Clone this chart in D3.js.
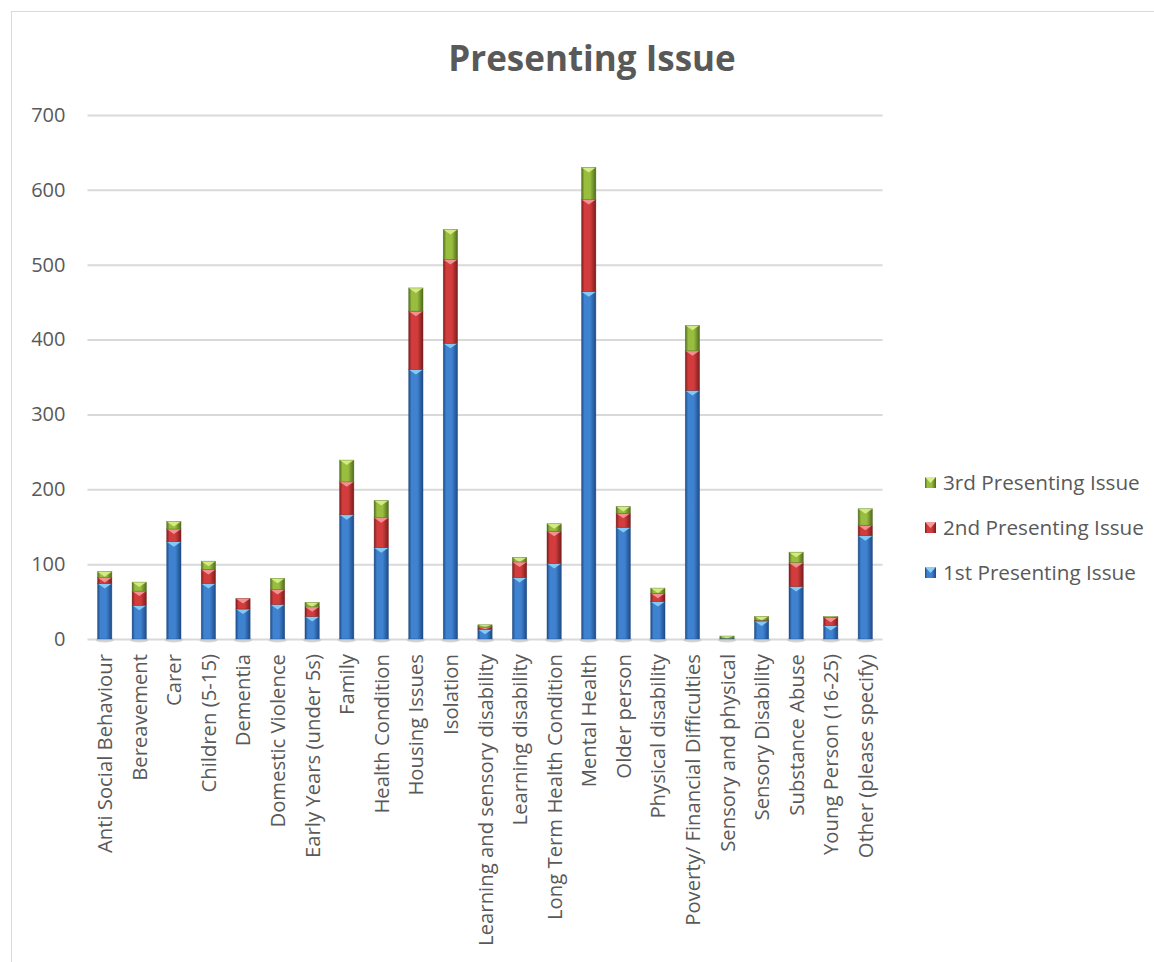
<!DOCTYPE html>
<html><head><meta charset="utf-8">
<script src="https://cdn.jsdelivr.net/npm/d3@7"></script>
<style>body{margin:0;background:#fff;} svg{display:block;} text{font-family:"Open Sans",sans-serif;}</style>
</head><body>
<script>
const categories = ["Anti Social Behaviour","Bereavement","Carer","Children (5-15)","Dementia","Domestic Violence","Early Years (under 5s)","Family","Health Condition","Housing Issues","Isolation","Learning and sensory disability","Learning disability","Long Term Health Condition","Mental Health","Older person","Physical disability","Poverty/ Financial Difficulties","Sensory and physical","Sensory Disability","Substance Abuse","Young Person (16-25)","Other (please specify)"];
const first  = [74,45,130,74,40,46,30,166,122,360,395,13,82,101,464,149,50,332,1,24,70,18,138];
const second = [8,19,17,19,14,20,13,44,40,78,112,3,21,43,123,19,11,53,0,1,32,11,14];
const third  = [8,12,10,11,0,15,6,29,23,31,40,3,6,10,43,9,7,34,3,5,14,1,22];
const seriesNames = ["1st Presenting Issue","2nd Presenting Issue","3rd Presenting Issue"];
const yTicks = [0,100,200,300,400,500,600,700];

const W=1154,H=962;
const svg=d3.select("body").append("svg").attr("width",W).attr("height",H);
const defs=svg.append("defs");
const pal=[
  {edge:"#1d4a86",mid:"#3f82d0",light:"#8cd0f7"},
  {edge:"#7a1d1d",mid:"#d23c3c",light:"#f49a9a"},
  {edge:"#4f6a1c",mid:"#98bd3f",light:"#d8f08a"}
];
pal.forEach((p,i)=>{
  const g=defs.append("linearGradient").attr("id","g"+i).attr("x1","0").attr("x2","1").attr("y1","0").attr("y2","0");
  g.append("stop").attr("offset","0").attr("stop-color",p.edge);
  g.append("stop").attr("offset","0.2").attr("stop-color",p.mid);
  g.append("stop").attr("offset","0.6").attr("stop-color",p.mid);
  g.append("stop").attr("offset","1").attr("stop-color",p.edge);
});

svg.append("rect").attr("x",11.5).attr("y",11.5).attr("width",1160).attr("height",970).attr("fill","none").attr("stroke","#d9d9d9");

const x=d3.scaleBand().domain(categories).range([87.5,882.5]).paddingInner(0.585).paddingOuter(0.29);
const y=d3.scaleLinear().domain([0,700]).range([639,115]);

svg.append("text").attr("x",592).attr("y",71).attr("text-anchor","middle").attr("font-size",35).attr("font-weight","bold").attr("fill","#595959").text("Presenting Issue");

// grid
const yAxis=d3.axisLeft(y).tickValues(yTicks).tickSize(-(882.5-87.5)).tickPadding(22).tickFormat(d3.format("d"));
const ga=svg.append("g").attr("transform","translate(87.5,0)").call(yAxis);
ga.select(".domain").remove();
ga.selectAll(".tick line").attr("stroke","#d9d9d9").attr("stroke-width",2);
ga.selectAll(".tick text").attr("font-size",20).attr("fill","#595959").attr("font-family","'Open Sans',sans-serif");

// data stack
const rows=categories.map((c,i)=>({cat:c,s0:first[i],s1:second[i],s2:third[i]}));
const stack=d3.stack().keys(["s0","s1","s2"])(rows);
const bw=x.bandwidth();

// base shadows
svg.append("g").selectAll("ellipse").data(categories).join("ellipse")
  .attr("cx",d=>x(d)+bw/2).attr("cy",y(0)+1).attr("rx",bw/2+2).attr("ry",2.5).attr("fill","#bbb").attr("opacity",0.6);

stack.forEach((layer,si)=>{
  const g=svg.append("g");
  layer.forEach((d,i)=>{
    const h=y(d[0])-y(d[1]);
    if(h<=0.01) return;
    const cx=x(categories[i]);
    const top=y(d[1]);
    g.append("rect").attr("x",cx).attr("y",top).attr("width",bw).attr("height",h).attr("fill","url(#g"+si+")");
    const th=Math.min(5,h);
    g.append("path").attr("d",`M${cx},${top}L${cx+bw},${top}L${cx+bw/2},${top+th}Z`).attr("fill",pal[si].light).attr("opacity",0.9);
    g.append("rect").attr("x",cx).attr("y",top).attr("width",bw).attr("height",h).attr("fill","none").attr("stroke",pal[si].edge).attr("stroke-width",0.6).attr("opacity",0.6);
  });
});

// x labels
const xl=svg.append("g");
categories.forEach(c=>{
  xl.append("text").attr("transform",`translate(${x(c)+bw/2+7.5},654) rotate(-90)`).attr("text-anchor","end")
    .attr("font-size",20.3).attr("fill","#595959").text(c);
});

// legend
const leg=svg.append("g");
[2,1,0].forEach((si,k)=>{
  const ly=483+k*45;
  leg.append("rect").attr("x",925).attr("y",ly-6).attr("width",11).attr("height",11).attr("fill","url(#g"+si+")");
  leg.append("path").attr("d",`M925,${ly-6}L936,${ly-6}L930.5,${ly}Z`).attr("fill",pal[si].light);
  leg.append("text").attr("x",943).attr("y",ly+7).attr("font-size",20.7).attr("fill","#595959").text(seriesNames[si]);
});
</script>
</body></html>
